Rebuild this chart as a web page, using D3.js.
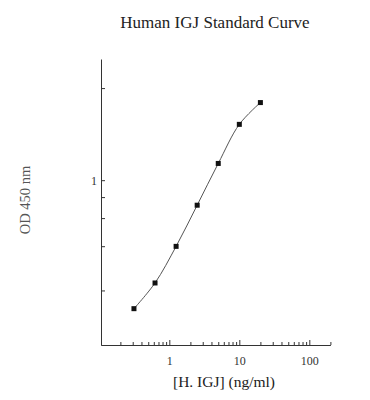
<!DOCTYPE html>
<html>
<head>
<meta charset="utf-8">
<script src="https://cdn.jsdelivr.net/npm/d3@7"></script>
<style>
  body { margin: 0; background: #fff; }
  text { font-family: "Liberation Serif", "Times New Roman", serif; }
</style>
</head>
<body>
<script>
// standard curve data
var conc = [0.3125, 0.625, 1.25, 2.5, 5, 10, 20];
var od = [0.147, 0.226, 0.399, 0.717, 1.238, 1.988, 2.553];

// axis ticks
var xMajor = [1, 10, 100];
var xMinor = [0.2, 0.3, 0.4, 0.5, 0.6, 0.7, 0.8, 0.9,
              2, 3, 4, 5, 6, 7, 8, 9,
              20, 30, 40, 50, 60, 70, 80, 90, 200];
var yTicks = [0.2, 0.4, 0.6, 0.8, 1, 3];
var yLabels = [1];

var data = conc.map(function(c, i) { return {conc: c, od: od[i]}; });

var svg = d3.select("body").append("svg")
    .attr("width", 370)
    .attr("height", 400);

// scales
var x = d3.scaleLog()
    .domain([0.105, 200])
    .range([100.8, 330.4]);

var y = d3.scalePow().exponent(0.15)
    .domain([0.076, 4.1])
    .range([345, 59]);

// title
svg.append("text")
    .attr("x", 215)
    .attr("y", 28)
    .style("text-anchor", "middle")
    .style("font-size", "17px")
    .style("fill", "#222")
    .text("Human IGJ Standard Curve");

// x axis: minor ticks then major ticks with labels
svg.append("g")
    .attr("transform", "translate(0,345)")
    .call(d3.axisBottom(x).tickValues(xMinor).tickSizeInner(-3).tickSizeOuter(0).tickFormat(""))
    .call(function(g) { g.select(".domain").remove(); });

var xAx = svg.append("g")
    .attr("transform", "translate(0,345)")
    .call(d3.axisBottom(x).tickValues(xMajor).tickSizeInner(-5).tickSizeOuter(0)
      .tickFormat(d3.format("d")).tickPadding(11));
xAx.selectAll("text").style("font-family", "Liberation Serif, serif").style("font-size", "12px").style("fill", "#333");

// y axis
var yAx = svg.append("g")
    .attr("transform", "translate(101,0)")
    .call(d3.axisLeft(y).tickValues(yTicks).tickSizeInner(-4).tickSizeOuter(0)
      .tickFormat(function(d) { return yLabels.indexOf(d) >= 0 ? d : ""; }).tickPadding(4));
yAx.selectAll("text").style("font-family", "Liberation Serif, serif").style("font-size", "12px").style("fill", "#333");

svg.selectAll(".domain").attr("stroke", "#333");
svg.selectAll(".tick line").attr("stroke", "#333");

// axis titles
svg.append("text")
    .attr("x", 224)
    .attr("y", 387)
    .style("text-anchor", "middle")
    .style("font-size", "15.5px")
    .style("fill", "#222")
    .text("[H. IGJ] (ng/ml)");

svg.append("text")
    .attr("transform", "translate(30,200) rotate(-90)")
    .style("text-anchor", "middle")
    .style("font-size", "14.5px")
    .style("fill", "#555")
    .text("OD 450 nm");

// fitted curve
var line = d3.line()
    .x(function(d) { return x(d.conc); })
    .y(function(d) { return y(d.od); })
    .curve(d3.curveCatmullRom);

svg.append("path")
    .datum(data)
    .attr("d", line)
    .attr("fill", "none")
    .attr("stroke", "#555")
    .attr("stroke-width", 1);

// points
svg.selectAll(".pt")
    .data(data)
  .enter().append("rect")
    .attr("class", "pt")
    .attr("x", function(d) { return x(d.conc) - 2.5; })
    .attr("y", function(d) { return y(d.od) - 2.5; })
    .attr("width", 5)
    .attr("height", 5)
    .attr("fill", "#111");
</script>
</body>
</html>
